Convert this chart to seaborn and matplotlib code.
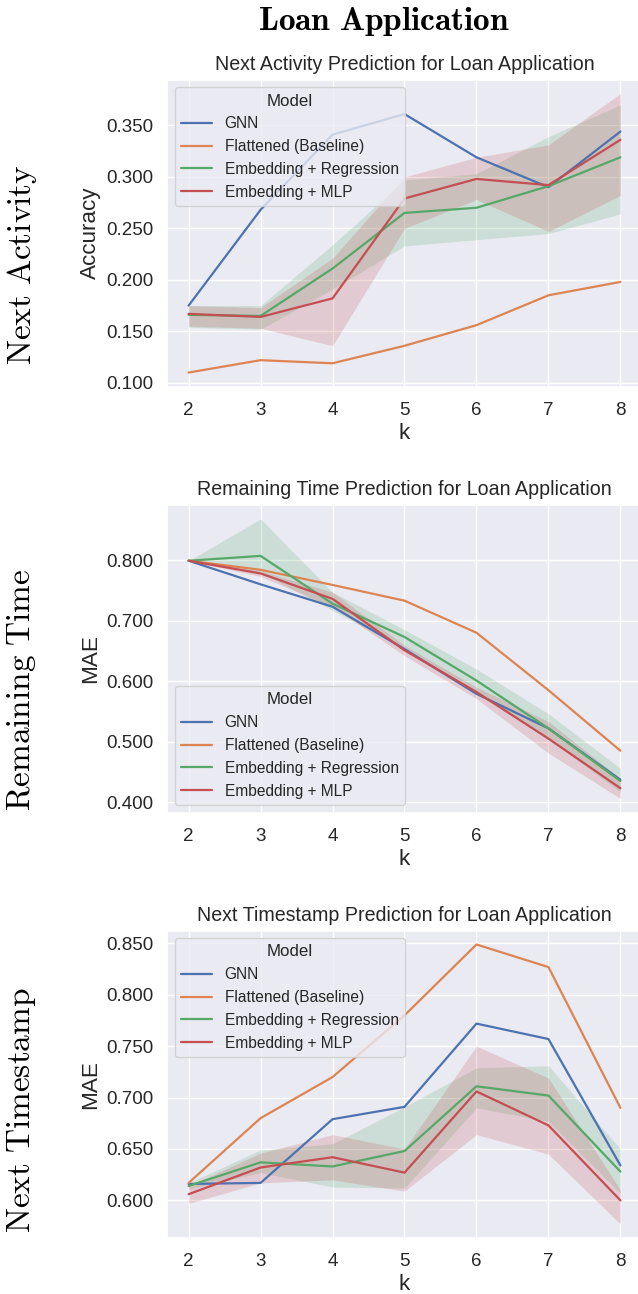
import matplotlib
matplotlib.use("Agg")
import matplotlib.pyplot as plt
from matplotlib.ticker import MultipleLocator, FormatStrFormatter
import seaborn as sns
import pandas as pd

# ---- data -------------------------------------------------------------
k_values = [2, 3, 4, 5, 6, 7, 8]
models = ["GNN", "Flattened (Baseline)", "Embedding + Regression", "Embedding + MLP"]

# Next activity accuracy
gnn_acc = [0.175, 0.268, 0.341, 0.361, 0.319, 0.290, 0.344]
flat_acc = [0.110, 0.122, 0.119, 0.136, 0.156, 0.185, 0.198]
reg_acc = [0.166, 0.165, 0.211, 0.265, 0.270, 0.291, 0.319]
reg_acc_lo = [0.154, 0.152, 0.191, 0.233, 0.239, 0.245, 0.264]
reg_acc_hi = [0.175, 0.175, 0.234, 0.297, 0.303, 0.339, 0.370]
mlp_acc = [0.167, 0.164, 0.182, 0.279, 0.298, 0.292, 0.336]
mlp_acc_lo = [0.155, 0.153, 0.136, 0.250, 0.278, 0.247, 0.282]
mlp_acc_hi = [0.175, 0.173, 0.221, 0.300, 0.319, 0.331, 0.381]

# Remaining time MAE
gnn_rt = [0.799, 0.760, 0.723, 0.653, 0.579, 0.522, 0.437]
flat_rt = [0.799, 0.784, 0.759, 0.733, 0.680, 0.585, 0.485]
reg_rt = [0.799, 0.807, 0.728, 0.673, 0.601, 0.522, 0.435]
reg_rt_lo = [0.799, 0.780, 0.717, 0.653, 0.579, 0.505, 0.417]
reg_rt_hi = [0.799, 0.868, 0.747, 0.685, 0.620, 0.546, 0.456]
mlp_rt = [0.799, 0.778, 0.736, 0.651, 0.582, 0.505, 0.423]
mlp_rt_lo = [0.799, 0.773, 0.723, 0.642, 0.571, 0.481, 0.406]
mlp_rt_hi = [0.799, 0.782, 0.747, 0.659, 0.590, 0.533, 0.439]

# Next timestamp MAE
gnn_ts = [0.616, 0.617, 0.679, 0.691, 0.772, 0.757, 0.634]
flat_ts = [0.617, 0.680, 0.720, 0.780, 0.849, 0.827, 0.690]
reg_ts = [0.614, 0.637, 0.633, 0.648, 0.711, 0.702, 0.628]
reg_ts_lo = [0.611, 0.627, 0.613, 0.612, 0.690, 0.677, 0.607]
reg_ts_hi = [0.617, 0.649, 0.655, 0.691, 0.729, 0.731, 0.650]
mlp_ts = [0.606, 0.632, 0.642, 0.627, 0.706, 0.673, 0.600]
mlp_ts_lo = [0.597, 0.617, 0.620, 0.609, 0.664, 0.645, 0.577]
mlp_ts_hi = [0.614, 0.646, 0.664, 0.650, 0.750, 0.719, 0.610]

panels = [
    dict(title="Next Activity Prediction for Loan Application", ylabel="Accuracy",
         row="Next\\ Activity", step=0.05, loc="upper left",
         lines=[gnn_acc, flat_acc, reg_acc, mlp_acc],
         bands=[None, None, (reg_acc_lo, reg_acc_hi), (mlp_acc_lo, mlp_acc_hi)]),
    dict(title="Remaining Time Prediction for Loan Application", ylabel="MAE",
         row="Remaining\\ Time", step=0.1, loc="lower left",
         lines=[gnn_rt, flat_rt, reg_rt, mlp_rt],
         bands=[None, None, (reg_rt_lo, reg_rt_hi), (mlp_rt_lo, mlp_rt_hi)]),
    dict(title="Next Timestamp Prediction for Loan Application", ylabel="MAE",
         row="Next\\ Timestamp", step=0.05, loc="upper left",
         lines=[gnn_ts, flat_ts, reg_ts, mlp_ts],
         bands=[None, None, (reg_ts_lo, reg_ts_hi), (mlp_ts_lo, mlp_ts_hi)]),
]

# ---- style --------------------------------------------------------------
sns.set_theme(style="darkgrid")
plt.rcParams["font.family"] = ["Liberation Sans", "DejaVu Sans"]
plt.rcParams["mathtext.fontset"] = "cm"
palette = sns.color_palette("deep", 4)

W, H = 638, 1294
fig = plt.figure(figsize=(W / 100, H / 100), dpi=100)

# axes boxes in pixels: (top, bottom)
boxes = [(79.5, 386.5), (505, 812.5), (930.5, 1238)]
left_px, right_px = 167, 642
row_label_y = [265, 690, 1110]

for p, (top, bottom), ry in zip(panels, boxes, row_label_y):
    ax = fig.add_axes([left_px / W, 1 - bottom / H, (right_px - left_px) / W, (bottom - top) / H])
    for model, vals, band, col in zip(models, p["lines"], p["bands"], palette):
        if band is not None:
            ax.fill_between(k_values, band[0], band[1], color=col, alpha=0.2, linewidth=0)
        df = pd.DataFrame({"k": k_values, "value": vals, "Model": model})
        sns.lineplot(data=df, x="k", y="value", color=col, label=model, ax=ax,
                     linewidth=1.6, errorbar=None)
    ax.set_title(p["title"], fontsize=14.1, pad=7)
    ax.set_xlabel("k", fontsize=16.2, labelpad=3)
    ax.set_ylabel(p["ylabel"], fontsize=16.2, labelpad=4)
    ax.yaxis.set_major_locator(MultipleLocator(p["step"]))
    ax.yaxis.set_major_formatter(FormatStrFormatter("%.3f"))
    ax.tick_params(axis="both", labelsize=13.5)
    ax.tick_params(axis="x", pad=5)
    ax.legend(title="Model", loc=p["loc"], fontsize=11.2, title_fontsize=12.2)
    fig.text(22 / W, 1 - ry / H, r"$\mathrm{" + p["row"] + "}$", rotation=90,
             ha="center", va="center", fontsize=24, color="black")

fig.text(384 / W, 1 - 21 / H, r"$\mathbf{Loan\ Application}$", ha="center", va="center",
         fontsize=24, color="black")

fig.savefig("out.png", dpi=100)
